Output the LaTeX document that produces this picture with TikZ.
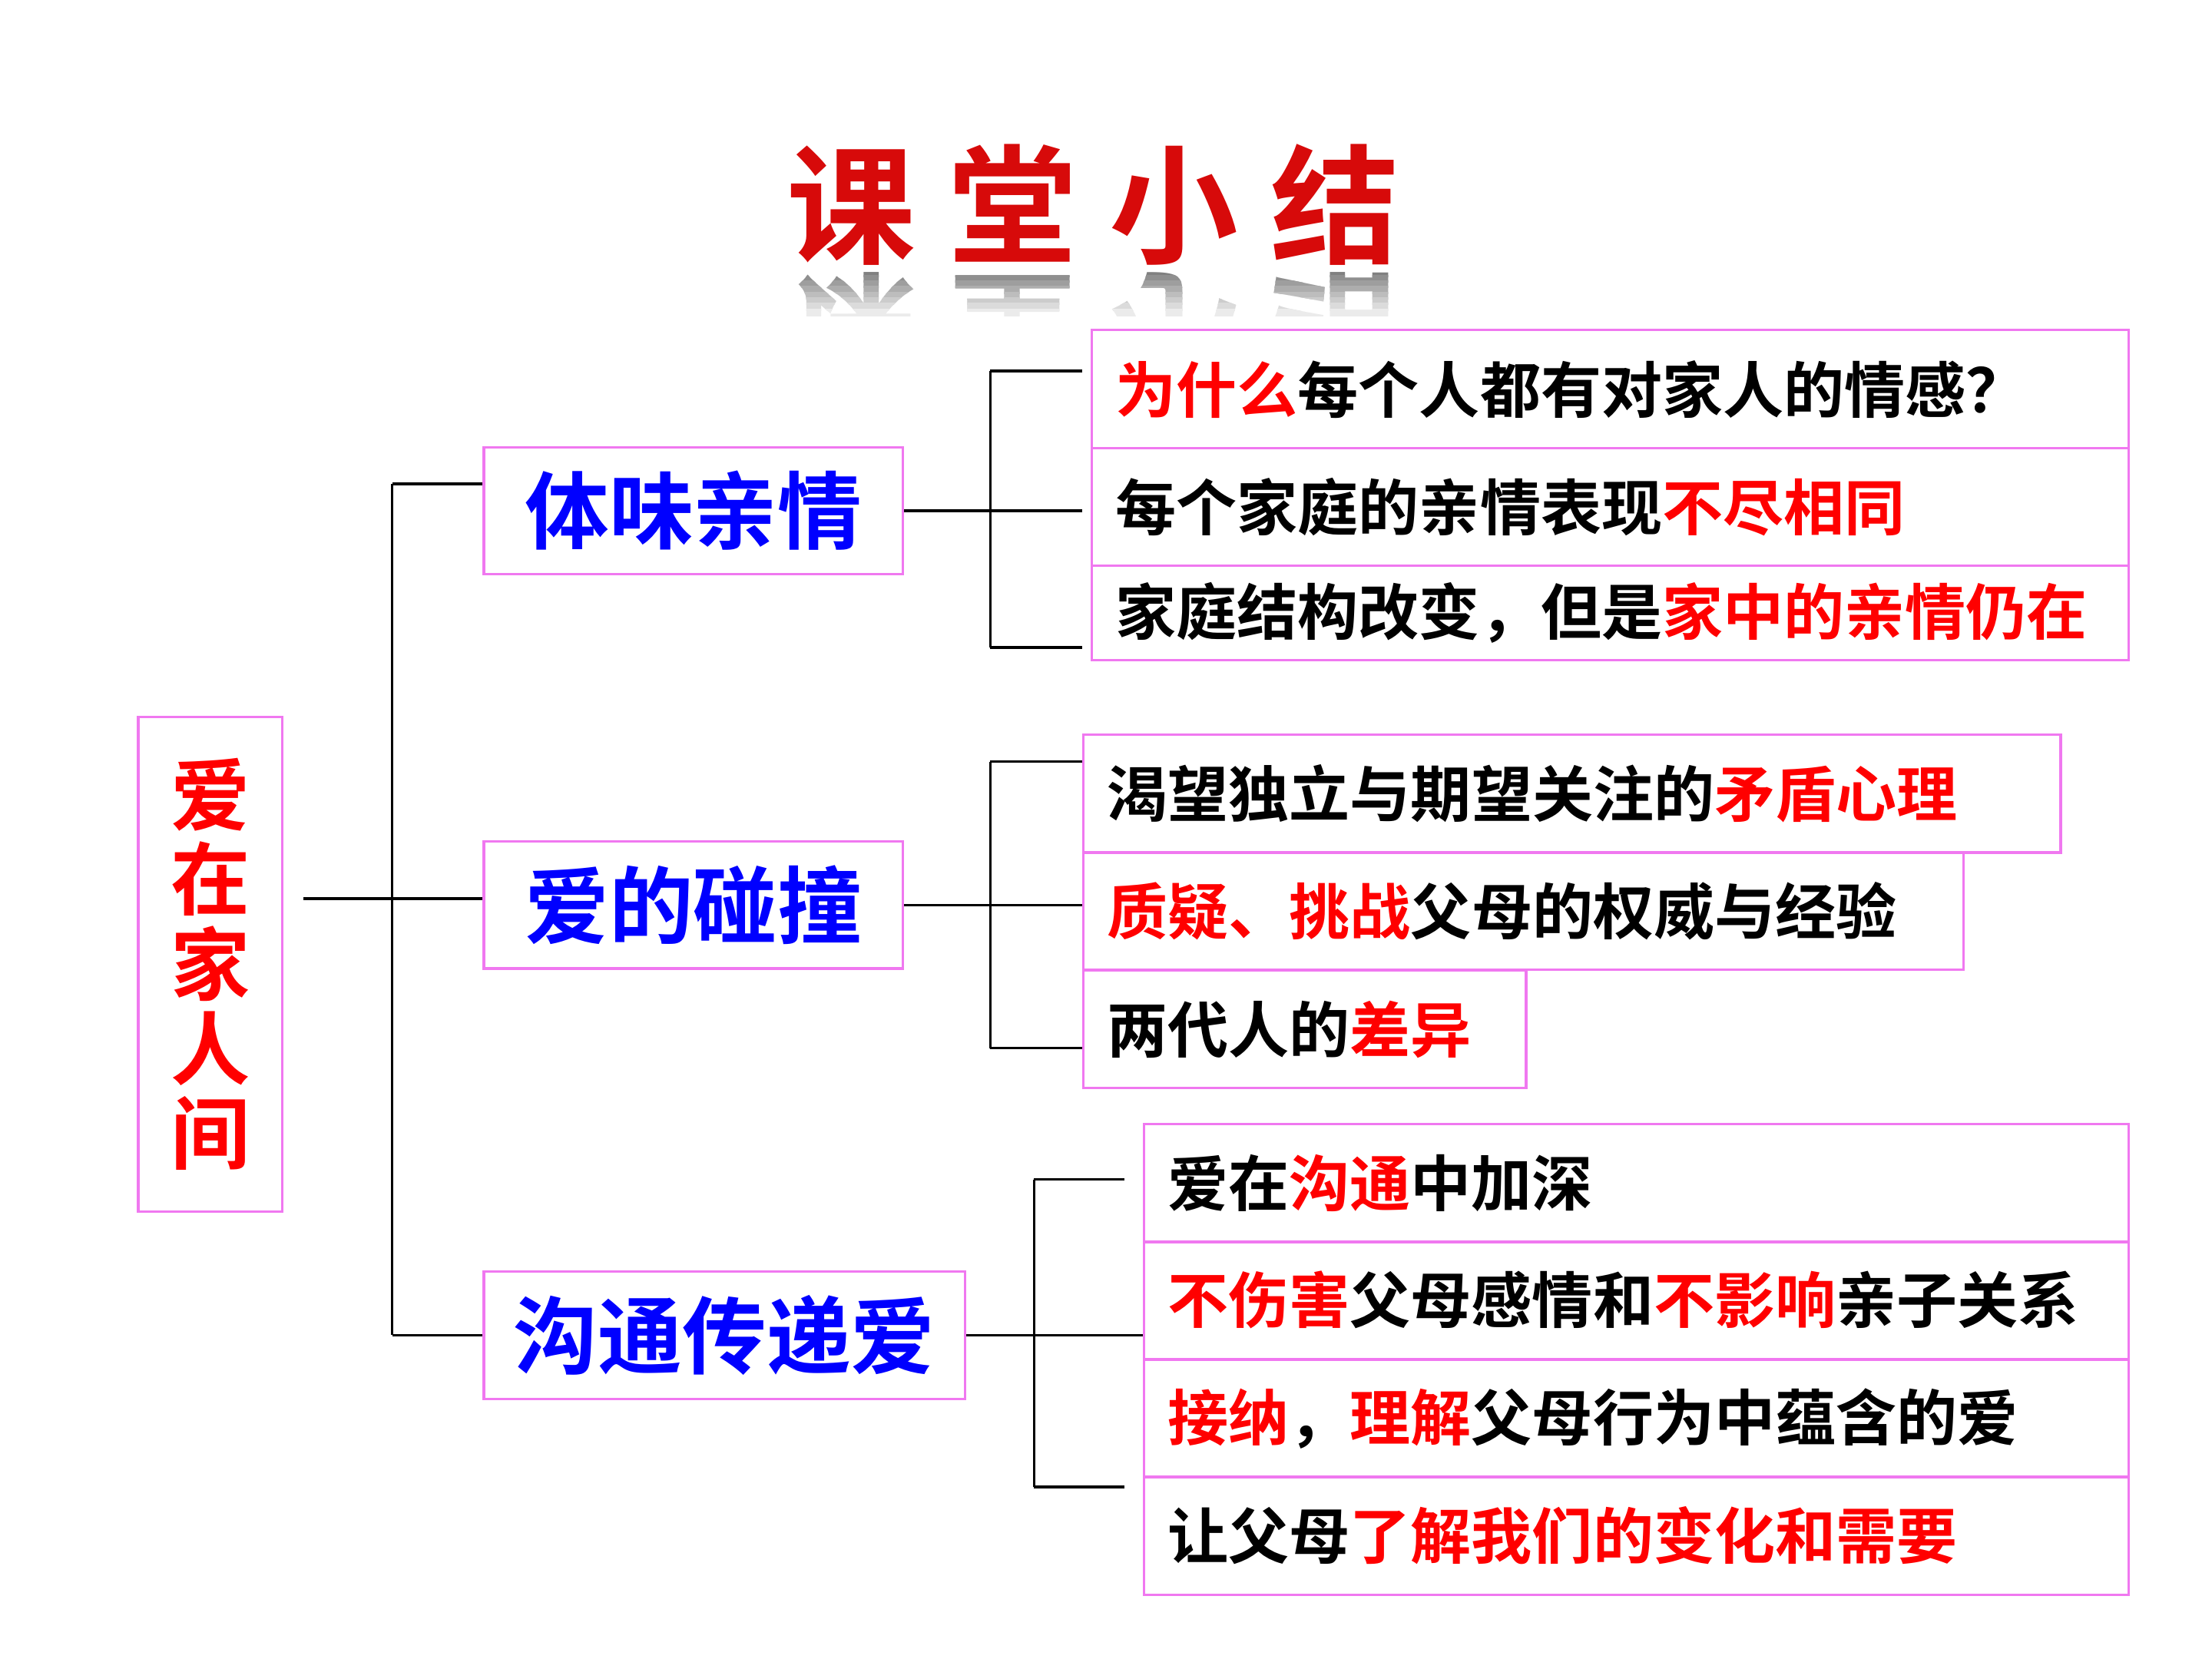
\documentclass[tikz,border=0pt]{standalone}
\usepackage{fontspec}
\setmainfont{Noto Sans CJK SC}[BoldFont={Noto Sans CJK SC Bold}]
\usetikzlibrary{positioning,calc}

\definecolor{boxpink}{RGB}{240,120,240}
\definecolor{catblue}{RGB}{0,0,255}
\definecolor{keyred}{RGB}{255,0,0}
\definecolor{titlered}{RGB}{215,10,10}

\newcommand\keyw[1]{\textcolor{keyred}{#1}}
\newcommand\itemfont{\fontsize{24.5pt}{28pt}\selectfont\bfseries}
\newcommand\catfont{\fontsize{34pt}{38pt}\selectfont\bfseries}
\newcommand\rootfont{\fontsize{32pt}{34.2pt}\selectfont\bfseries}
\newcommand\titlefont{\fontsize{52pt}{56pt}\selectfont\bfseries}

\begin{document}
\begin{tikzpicture}[x=0.02cm, y=0.02cm,
  root/.style={draw=boxpink, line width=1pt, minimum width=2.04cm, minimum height=7.02cm,
               align=center, text=keyred, font=\rootfont},
  cat/.style={draw=boxpink, line width=1pt, minimum height=1.8cm, text=catblue, font=\catfont},
  item/.style={draw=boxpink, line width=1pt, anchor=north west, inner xsep=0.34cm, inner ysep=0pt,
               minimum height=1.67cm, align=left, font=\itemfont},
  lnk/.style={line width=1pt},
  title/.style={font=\titlefont, text=titlered},
]
\useasboundingbox (0,0) rectangle (1568,-1176);

% --- Title with its reflection ---
\node[title] (ttl) at (775,-145) {课\hspace{13pt}堂\hspace{13pt}小\hspace{13pt}结};
\foreach \k [evaluate=\k as \shade using 50-6*\k] in {0,...,7} {
  \begin{scope}
    \clip (540,{-191-4*\k}) rectangle (1010,{-196-4*\k});
    \node[title, text=black!\shade, yscale=-1] at (775,-236) {课\hspace{13pt}堂\hspace{13pt}小\hspace{13pt}结};
  \end{scope}
}

% --- Root and the three topics ---
\node[root] (root) at (149,-683.5) {爱\\在\\家\\人\\间};

\node[cat, minimum width=5.94cm] (c1) at (491.5,-362) {体味亲情};
\node[cat, minimum width=5.94cm] (c2) at (491.5,-641.5) {爱的碰撞};
\node[cat, minimum width=6.82cm] (c3) at (513.5,-946.5) {沟通传递爱};

% --- Items of topic 1 ---
\node[item, text width=14.02cm, minimum height=1.68cm] (a1) at (773,-233) {\keyw{为什么}每个人都有对家人的情感？};
\node[item, text width=14.02cm, minimum height=1.66cm] (a2) at (773,-317) {每个家庭的亲情表现\keyw{不尽相同}};
\node[item, text width=14.02cm, minimum height=1.34cm] (a3) at (773,-400) {家庭结构改变，但是\keyw{家中的亲情仍在}};

% --- Items of topic 2 ---
\node[item, text width=13.18cm] (b1) at (767,-520) {渴望独立与期望关注的\keyw{矛盾心理}};
\node[item, text width=11.8cm] (b2) at (767,-603) {\keyw{质疑、挑战}父母的权威与经验};
\node[item, text width=5.6cm] (b3) at (767,-687) {两代人的\keyw{差异}};

% --- Items of topic 3 ---
\node[item, text width=13.28cm] (d1) at (810,-796) {爱在\keyw{沟通}中加深};
\node[item, text width=13.28cm] (d2) at (810,-879) {\keyw{不伤害}父母感情和\keyw{不影响}亲子关系};
\node[item, text width=13.28cm] (d3) at (810,-963) {\keyw{接纳}，\keyw{理解}父母行为中蕴含的爱};
\node[item, text width=13.28cm] (d4) at (810,-1046) {让父母\keyw{了解我们的变化和需要}};

% --- Main trunk ---
\coordinate (r0) at (215,-637);
\coordinate (t1) at (278,-343);
\coordinate (t3) at (278,-946.5);
\draw[lnk] (t1) -- (t3);
\draw[lnk] (t1) -- (t1 -| c1.west);
\draw[lnk] (r0) -- (r0 -| c2.west);
\draw[lnk] (t3) -- (c3.west);

% --- Bracket 1 ---
\coordinate (u1) at (702,-263);
\coordinate (u3) at (702,-459);
\draw[lnk] (u1) -- (u3);
\draw[lnk, shorten >=3.4pt] (u1) -- (u1 -| a1.west);
\draw[lnk, shorten >=3.4pt] (c1.east) -- (c1.east -| a2.west);
\draw[lnk, shorten >=3.4pt] (u3) -- (u3 -| a3.west);

% --- Bracket 2 ---
\coordinate (v1) at (702,-540);
\coordinate (v3) at (702,-743);
\draw[lnk] (v1) -- (v3);
\draw[lnk] (v1) -- (v1 -| b1.west);
\draw[lnk] (c2.east) -- (c2.east -| b2.west);
\draw[lnk] (v3) -- (v3 -| b3.west);

% --- Bracket 3 ---
\coordinate (w1) at (733,-836);
\coordinate (w3) at (733,-1054);
\draw[lnk] (w1) -- (w3);
\draw[lnk, shorten >=7.4pt] (w1) -- (w1 -| d1.west);
\draw[lnk] (c3.east) -- (c3.east -| d2.west);
\draw[lnk, shorten >=7.4pt] (w3) -- (w3 -| d4.west);
\end{tikzpicture}
\end{document}
